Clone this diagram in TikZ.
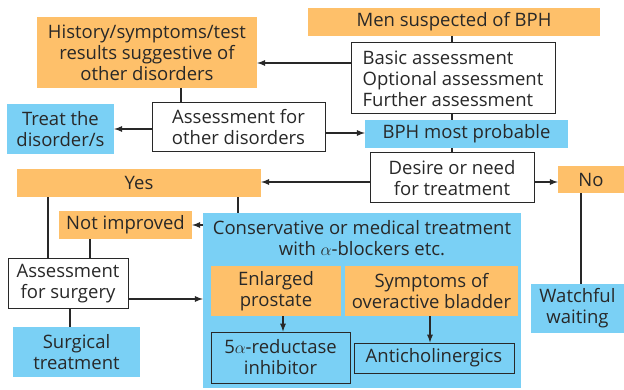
\documentclass[tikz,border=0pt]{standalone}
\usepackage{fontspec}
\setmainfont{Open Sans}
\definecolor{bphorange}{RGB}{254,192,106}
\definecolor{bphblue}{RGB}{122,208,245}
\definecolor{ink}{RGB}{40,40,40}
\tikzset{
  box/.style={inner sep=0pt, align=center, text=ink, font=\fontsize{18.5}{21}\selectfont},
  obox/.style={box, fill=bphorange},
  bbox/.style={box, fill=bphblue},
  wbox/.style={box, fill=white, draw=ink, line width=1pt},
  link/.style={line width=1.7pt, draw=ink},
  arr/.style={link, ->, >=latex},
}
\begin{document}
\begin{tikzpicture}[x=1pt, y=-1pt]
    \useasboundingbox (0,0) rectangle (624,390);

    % top: suspicion and assessment
    \node[obox, minimum width=292pt, minimum height=28pt] (men) at (454,22) {Men suspected of BPH};
    \node[wbox, align=left, minimum width=204pt, minimum height=71pt] (basic) at (453,78.5)
        {Basic assessment\\Optional assessment\\Further assessment};
    \node[obox, minimum width=220pt, minimum height=71pt] (hist) at (147,52.5)
        {History/symptoms/test\\results suggestive of\\other disorders};
    \node[wbox, minimum width=173pt, minimum height=49pt] (other) at (238.5,127.5)
        {Assessment for\\other disorders};
    \node[bbox, minimum width=107pt, minimum height=50pt] (treat) at (60.5,129) {Treat the\\disorder/s};
    \node[bbox, minimum width=203pt, minimum height=28pt] (bph) at (466.5,134) {BPH most probable};

    % decision on treatment
    \node[wbox, minimum width=164pt, minimum height=50pt] (desire) at (452,178) {Desire or need\\for treatment};
    \node[obox, minimum width=244pt, minimum height=28pt] (yes) at (139,183) {Yes};
    \node[obox, minimum width=66pt, minimum height=27pt] (no) at (591,179.5) {No};
    \node[bbox, minimum width=93pt, minimum height=49pt] (watch) at (577.5,308.5) {Watchful\\waiting};

    % treatment block
    \node[bbox, minimum width=318pt, minimum height=175pt] (cons) at (362,300.5) {};
    \node[box] (constitle) at (362,238) {Conservative or medical treatment\\with $\alpha$-blockers etc.};
    \node[obox, minimum width=130pt, minimum height=50pt] (enl) at (276,291) {Enlarged\\prostate};
    \node[obox, minimum width=173pt, minimum height=50pt] (oab) at (431.5,291) {Symptoms of\\overactive bladder};
    \node[wbox, fill=none, minimum width=139pt, minimum height=51pt] (five) at (280.5,357.5) {5$\alpha$-reductase\\inhibitor};
    \node[wbox, fill=none, minimum width=160pt, minimum height=30pt] (anti) at (434,358) {Anticholinergics};

    % surgery
    \node[obox, minimum width=133pt, minimum height=28pt] (notimp) at (125.5,225) {Not improved};
    \node[wbox, minimum width=120pt, minimum height=49pt] (surgass) at (68,283.5) {Assessment\\for surgery};
    \node[bbox, minimum width=127pt, minimum height=50pt] (surg) at (76.5,352) {Surgical\\treatment};

    % connectors
    \draw[link] (men.south -| 452,0) -- (basic.north -| 452,0);
    \draw[arr] (basic.west |- 0,63) -- (hist.east |- 0,63);
    \draw[link] (hist.south -| 181,0) -- (other.north -| 181,0);
    \draw[arr] (other.west |- 0,129) -- (treat.east |- 0,129);
    \draw[arr] (other.east |- 0,133) -- (bph.west |- 0,133);
    \draw[link] (basic.south -| 452,0) -- (bph.north -| 452,0);
    \draw[link] (bph.south -| 452,0) -- (desire.north -| 452,0);
    \draw[arr] (desire.west |- 0,182) -- (yes.east |- 0,182);
    \draw[arr] (desire.east |- 0,182) -- (no.west |- 0,182);
    \draw[link] (no.south -| 581,0) -- (watch.north -| 581,0);
    \draw[link] (yes.south -| 48,0) -- (surgass.north -| 48,0);
    \draw[link] (yes.south -| 238,0) -- (cons.north -| 238,0);
    \draw[arr] (cons.west |- 0,225) -- (notimp.east |- 0,225);
    \draw[link] (notimp.south -| 90,0) -- (surgass.north -| 90,0);
    \draw[arr] (surgass.east |- 0,299) -- (cons.west |- 0,299);
    \draw[link] (surgass.south -| 70,0) -- (surg.north -| 70,0);
    \draw[arr] (enl.south -| 283,0) -- (five.north -| 283,0);
    \draw[arr] (oab.south -| 430,0) -- (anti.north -| 430,0);
\end{tikzpicture}
\end{document}
